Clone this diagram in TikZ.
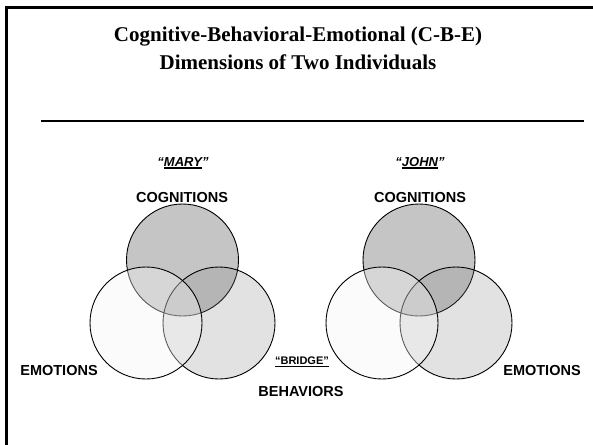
\documentclass[tikz,border=0pt]{standalone}
\usepackage{fontspec}
\setmainfont{Liberation Serif}
\setsansfont{Liberation Sans}
\newcommand{\ulbar}[1]{\setbox0\hbox{#1}\rlap{\rule[-2.4pt]{\wd0}{1.5pt}}\box0}

\begin{document}
\begin{tikzpicture}[x=1pt,y=-1pt,
  lbl/.style={font=\sffamily\bfseries\fontsize{14.5}{16}\selectfont},
  nm/.style={font=\sffamily\bfseries\itshape\fontsize{13}{15}\selectfont},
  topc/.style={draw=black,line width=0.9pt,fill=black!50,fill opacity=0.46},
  rgtc/.style={draw=black,line width=0.9pt,fill=black!50,fill opacity=0.23},
  lftc/.style={draw=black,line width=0.9pt,fill=black!4,fill opacity=0.37}]
\useasboundingbox (0,0) rectangle (593,444);
%\draw[step=20,gray,very thin] (0,0) grid (593,444);
\draw[line width=3pt] (6,450) -- (6,7.5) -- (600,7.5);

\node[font=\bfseries\fontsize{21}{28}\selectfont,align=center] (title) at (298,48.5)
  {Cognitive-Behavioral-Emotional (C-B-E)\\Dimensions of Two Individuals};
\draw[line width=2pt] (41,121) -- (584,121);

% Mary
\draw[topc] (182.5,260) circle (56);
\draw[rgtc] (219,323)   circle (56);
\draw[lftc] (146,323)   circle (56);
\node[nm]  (maryname) at (183,163) {“\ulbar{MARY}”};
\node[lbl] (marycog)  at (182,198) {COGNITIONS};
\node[lbl] (maryemo)  at (59,371)  {EMOTIONS};

% John
\draw[topc] (419,260) circle (56);
\draw[rgtc] (456,323) circle (56);
\draw[lftc] (382,323) circle (56);
\node[nm]  (johnname) at (420,163) {“\ulbar{JOHN}”};
\node[lbl] (johncog)  at (420,198) {COGNITIONS};
\node[lbl] (johnemo)  at (542,371) {EMOTIONS};

% bridge
\node[font=\sffamily\bfseries\fontsize{11}{13}\selectfont] (bridge) at (302,362) {\ulbar{“BRIDGE”}};
\node[lbl] (behav) at (301,392) {BEHAVIORS};

\end{tikzpicture}
\end{document}
